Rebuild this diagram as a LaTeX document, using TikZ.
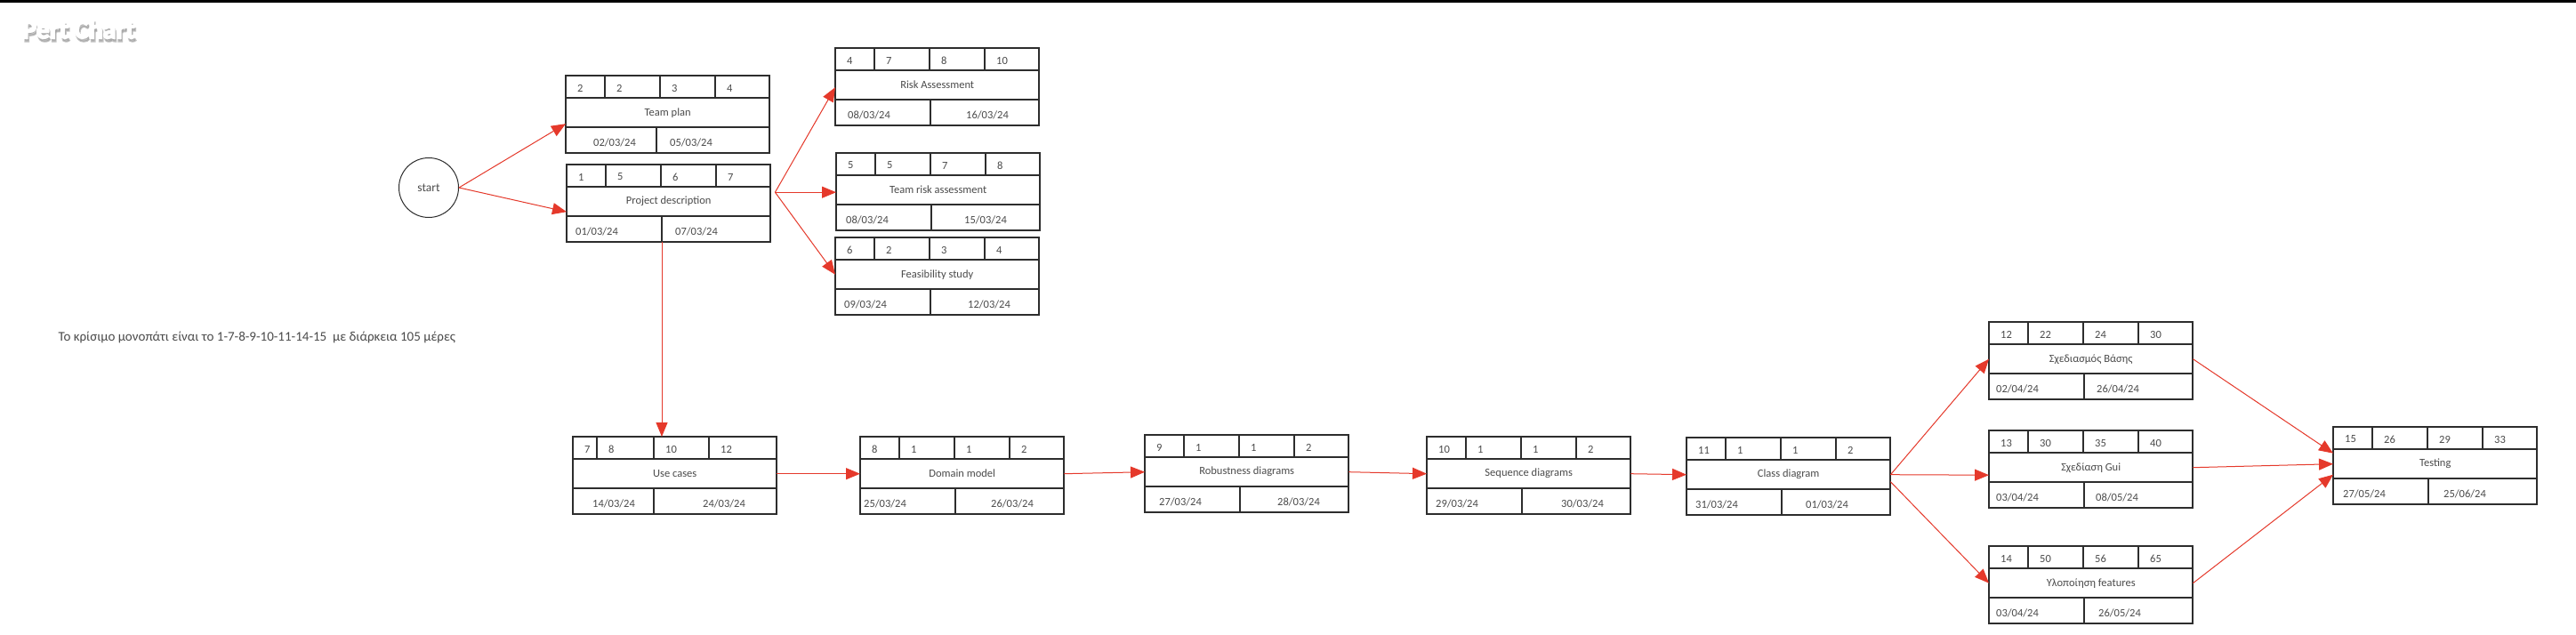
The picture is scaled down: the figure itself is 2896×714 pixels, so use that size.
\documentclass[tikz,border=0pt]{standalone}
\usepackage{fontspec}
\setmainfont{Carlito}
\usetikzlibrary{arrows.meta, positioning}
\definecolor{arrowred}{RGB}{229,57,43}
\definecolor{boxgrey}{RGB}{45,45,45}
\definecolor{textgrey}{RGB}{75,75,75}
\tikzstyle{every node}=[font=\fontsize{12.5}{15}\selectfont, text=textgrey]
\tikzstyle{cell}=[draw=boxgrey, line width=1.3pt]
\tikzstyle{task}=[minimum width=229pt, minimum height=33pt, inner sep=0pt]
\tikzstyle{num}=[inner sep=0pt, anchor=west]
\tikzstyle{date}=[inner sep=0pt]
\tikzstyle{link}=[draw=arrowred, line width=1pt, -{Triangle[length=16pt,width=13pt]}]
\tikzstyle{heading}=[anchor=base west, inner sep=0pt, font=\bfseries\fontsize{30}{34}\selectfont]

% heavy letters: fill and stroke the glyphs
\newcommand{\heavy}[2]{\special{pdf:literal direct 2 Tr #1 w #2 RG}}
\newcommand{\plain}{\special{pdf:literal direct 0 Tr}}

% cells of the top row and split of the bottom row
\def\pertcols{44,106,168}
\def\pertsplit{107}
\def\pertpad{13}

% #1 name, #2 x, #3 y of the top left corner, #4 the four numbers,
% #5 task, #6 start, #7 finish, #8 and #9 where the dates sit
\newcommand{\pertbox}[9]{%
  \node[task, anchor=north west] (#1) at (#2,#3+25) {#5};
  \coordinate (#1-top) at (#2+114.5,#3);
  \draw[cell] (#2,#3) rectangle (#2+229,#3+87)
    (#2,#3+25) -- ++(229,0) (#2,#3+58) -- ++(229,0);
  \foreach \c in \pertcols
    \draw[cell] (#2+\c,#3) -- ++(0,25);
  \coordinate (#1-split) at (#2+\pertsplit,#3+87);
  \draw[cell] (#1-split) -- ++(0,-29);
  \foreach \n [count=\i from 0] in {#4} {
    \pgfmathsetmacro\cx{{0,\pertcols}[\i]}
    \node[num] (#1-n\i) at (#2+\cx+\pertpad,#3+14) {\n};
  }
  \node[date] (#1-s) at (#2+#8,#3+75) {#6};
  \node[date] (#1-f) at (#2+#9,#3+75) {#7};
}

\begin{document}
\begin{tikzpicture}[x=1pt,y=-1pt]
    \fill[white] (0,0) rectangle (2896,714);
    \useasboundingbox (0,0) rectangle (2896,714);
    \fill[black] (0,0) rectangle (2896,3);

    % title with its shadow
    \node[heading, text=black!45, opacity=0.5] (shadow) at (26.5,46.5) {\heavy{2}{0.55 0.55 0.55}Pert Chart\plain};
    \node[heading, text=white] (title) at (25,43) {\heavy{1.6}{1 1 1}Pert Chart\plain};

    \node[anchor=west, font=\fontsize{15}{18}\selectfont] (critical) at (62,379) {Το κρίσιμο μονοπάτι είναι το 1-7-8-9-10-11-14-15\ \ με διάρκεια 105 μέρες};

    \node[circle, draw=boxgrey, line width=1pt, minimum size=67pt, inner sep=0pt, font=\fontsize{13.5}{16}\selectfont] (start) at (482,211) {start};

    {\def\pertsplit{102}
    \pertbox{tp}{636}{85}{2,2,3,4}{Team plan}{02/03/24}{05/03/24}{55}{141}}
    \pertbox{pd}{637}{185}{1,5,6,7}{Project description}{01/03/24}{07/03/24}{34}{146}
    \pertbox{ra}{939}{54}{4,7,8,10}{Risk Assessment}{08/03/24}{16/03/24}{38}{171}
    \pertbox{tra}{940}{172}{5,5,7,8}{Team risk assessment}{08/03/24}{15/03/24}{35}{168}
    \pertbox{fs}{939}{267}{6,2,3,4}{Feasibility study}{09/03/24}{12/03/24}{34}{173}

    {\def\pertcols{27,91,153}\def\pertsplit{91}
    \pertbox{uc}{644}{491}{7,8,10,12}{Use cases}{14/03/24}{24/03/24}{46}{170}}
    \pertbox{dm}{967}{491}{8,1,1,2}{Domain model}{25/03/24}{26/03/24}{28}{171}
    \pertbox{rd}{1287}{489}{9,1,1,2}{Robustness diagrams}{27/03/24}{28/03/24}{40}{173}
    \pertbox{sd}{1604}{491}{10,1,1,2}{Sequence diagrams}{29/03/24}{30/03/24}{34}{175}
    \pertbox{cd}{1896}{492}{11,1,1,2}{Class diagram}{31/03/24}{01/03/24}{34}{158}

    \pertbox{db}{2236}{362}{12,22,24,30}{Σχεδιασμός Βάσης}{02/04/24}{26/04/24}{32}{145}
    \pertbox{gui}{2236}{484}{13,30,35,40}{Σχεδίαση Gui}{03/04/24}{08/05/24}{32}{144}
    \pertbox{feat}{2236}{614}{14,50,56,65}{Υλοποίηση features}{03/04/24}{26/05/24}{32}{147}
    \pertbox{test}{2623}{480}{15,26,29,33}{Testing}{27/05/24}{25/06/24}{35}{148}

    % connectors
    \draw[link] (start.east) -- ([yshift=-12.5pt]tp.west);
    \draw[link] (start.east) -- ([yshift=-11.5pt]pd.west);
    \coordinate (fork) at ([xshift=5pt,yshift=10.5pt]pd.east);
    \draw[link] (fork) -- ([yshift=-2.5pt]ra.west);
    \draw[link] (fork) -- ([yshift=-2.5pt]tra.west);
    \draw[link] (fork) -- (fs.west);
    \draw[link] (pd-split) -- (pd-split |- uc-top);

    \draw[link] (uc.east) -- (dm.west);
    \draw[link] (dm.east) -- (rd.west);
    \draw[link] (rd.east) -- (sd.west);
    \draw[link] (sd.east) -- (cd.west);

    \draw[link] (cd.east) -- (db.west);
    \draw[link] (cd.east) -- ([yshift=-8.5pt]gui.west);
    \draw[link] ([yshift=-8pt]cd.east) -- (feat.west);

    \draw[link] (db.east) -- ([yshift=12pt]test.west);
    \draw[link] (gui.east) -- (test.west);
    \draw[link] (feat.east) -- ([yshift=-12pt]test.west);
\end{tikzpicture}
\end{document}
